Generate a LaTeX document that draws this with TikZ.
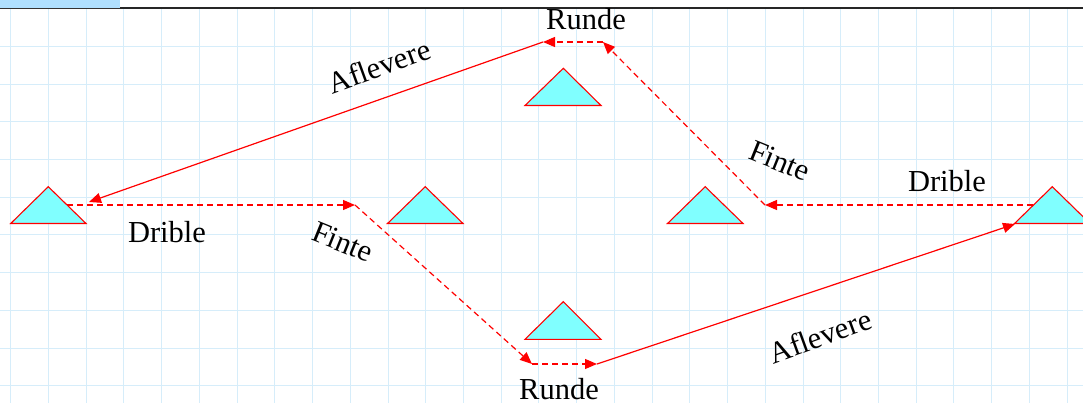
\documentclass[tikz,border=0pt]{standalone}
\usepackage{fontspec}
\setmainfont{Liberation Serif}
\newfontfamily\lblfont{Liberation Serif}
\usetikzlibrary{arrows.meta}
\definecolor{gridblue}{RGB}{214,237,250}
\definecolor{tabblue}{RGB}{176,224,255}
\definecolor{cyanfill}{RGB}{128,255,255}
\definecolor{arrred}{RGB}{255,0,0}
\tikzset{
  player/.style={fill=cyanfill, draw=arrred, line width=1.1pt, line join=miter},
  conn/.style={draw=arrred, line width=1.2pt, -{Triangle[length=12pt,width=10pt]}},
  dconn/.style={conn, dash pattern=on 6pt off 4pt},
  lbl/.style={font=\lblfont\fontsize{30.5}{36}\selectfont, inner sep=0pt}
}
\begin{document}
\begin{tikzpicture}[x=1pt,y=-1pt]
\useasboundingbox (0,0) rectangle (1083,403);
\fill[white] (0,0) rectangle (1083,403);
% grid
\foreach \i in {0,...,28} {
  \draw[gridblue, line width=1pt] ({10.7+37.73*\i},9) -- ({10.7+37.73*\i},403);
}
\foreach \j in {0,...,9} {
  \draw[gridblue, line width=1pt] (0,{46.3+37.73*\j}) -- (1083,{46.3+37.73*\j});
}
% top bar
\fill[tabblue] (0,0) rectangle (120,8);
\draw[black!80, line width=1pt] (0,9) -- (120,9);
\draw[black!85, line width=2.5pt] (120,8) -- (1083,8);
% players
\path[player] (10.7,223.5) -- (48.3,186.7) -- (86,223.5) -- cycle;
\path[player] (387.5,223.5) -- (425.2,186.7) -- (463,223.5) -- cycle;
\path[player] (667.5,223.5) -- (705.2,186.7) -- (743,223.5) -- cycle;
\path[player] (1014.5,223.5) -- (1052.3,186.7) -- (1090,223.5) -- cycle;
\path[player] (525,105.5) -- (563.3,68.3) -- (601,105.5) -- cycle;
\path[player] (525,339.3) -- (563.3,301.7) -- (601,339.3) -- cycle;
% waypoints
\coordinate (p1) at (67,205);
\coordinate (p2) at (355,205);
\coordinate (p3) at (532,364);
\coordinate (p4) at (597,364);
\coordinate (p5) at (1015,224);
\coordinate (q1) at (1033,205);
\coordinate (q2) at (765,205);
\coordinate (q3) at (603,42);
\coordinate (q4) at (543,42);
\coordinate (q5) at (89,202);
% connectors
\draw[dconn] (p1) -- (p2);
\draw[dconn] (p2) -- (p3);
\draw[dconn] (p3) -- (p4);
\draw[conn] (p4) -- (p5);
\draw[dconn] (q1) -- (q2);
\draw[dconn] (q2) -- (q3);
\draw[dconn] (q3) -- (q4);
\draw[conn] (q4) -- (q5);
% labels
\node[lbl, anchor=base] (runde1) at (586,30) {Runde};
\node[lbl, anchor=base] (drible1) at (167,243) {Drible};
\node[lbl, anchor=base] (runde2) at (559,399) {Runde};
\node[lbl, anchor=base] (drible2) at (947,192) {Drible};
\node[lbl, rotate=20] (afl1) at (379,66) {Aflevere};
\node[lbl, rotate=20] (afl2) at (820,336) {Aflevere};
\node[lbl, rotate=-22] (finte1) at (343,242) {Finte};
\node[lbl, rotate=-22] (finte2) at (780,161) {Finte};
\end{tikzpicture}
\end{document}
